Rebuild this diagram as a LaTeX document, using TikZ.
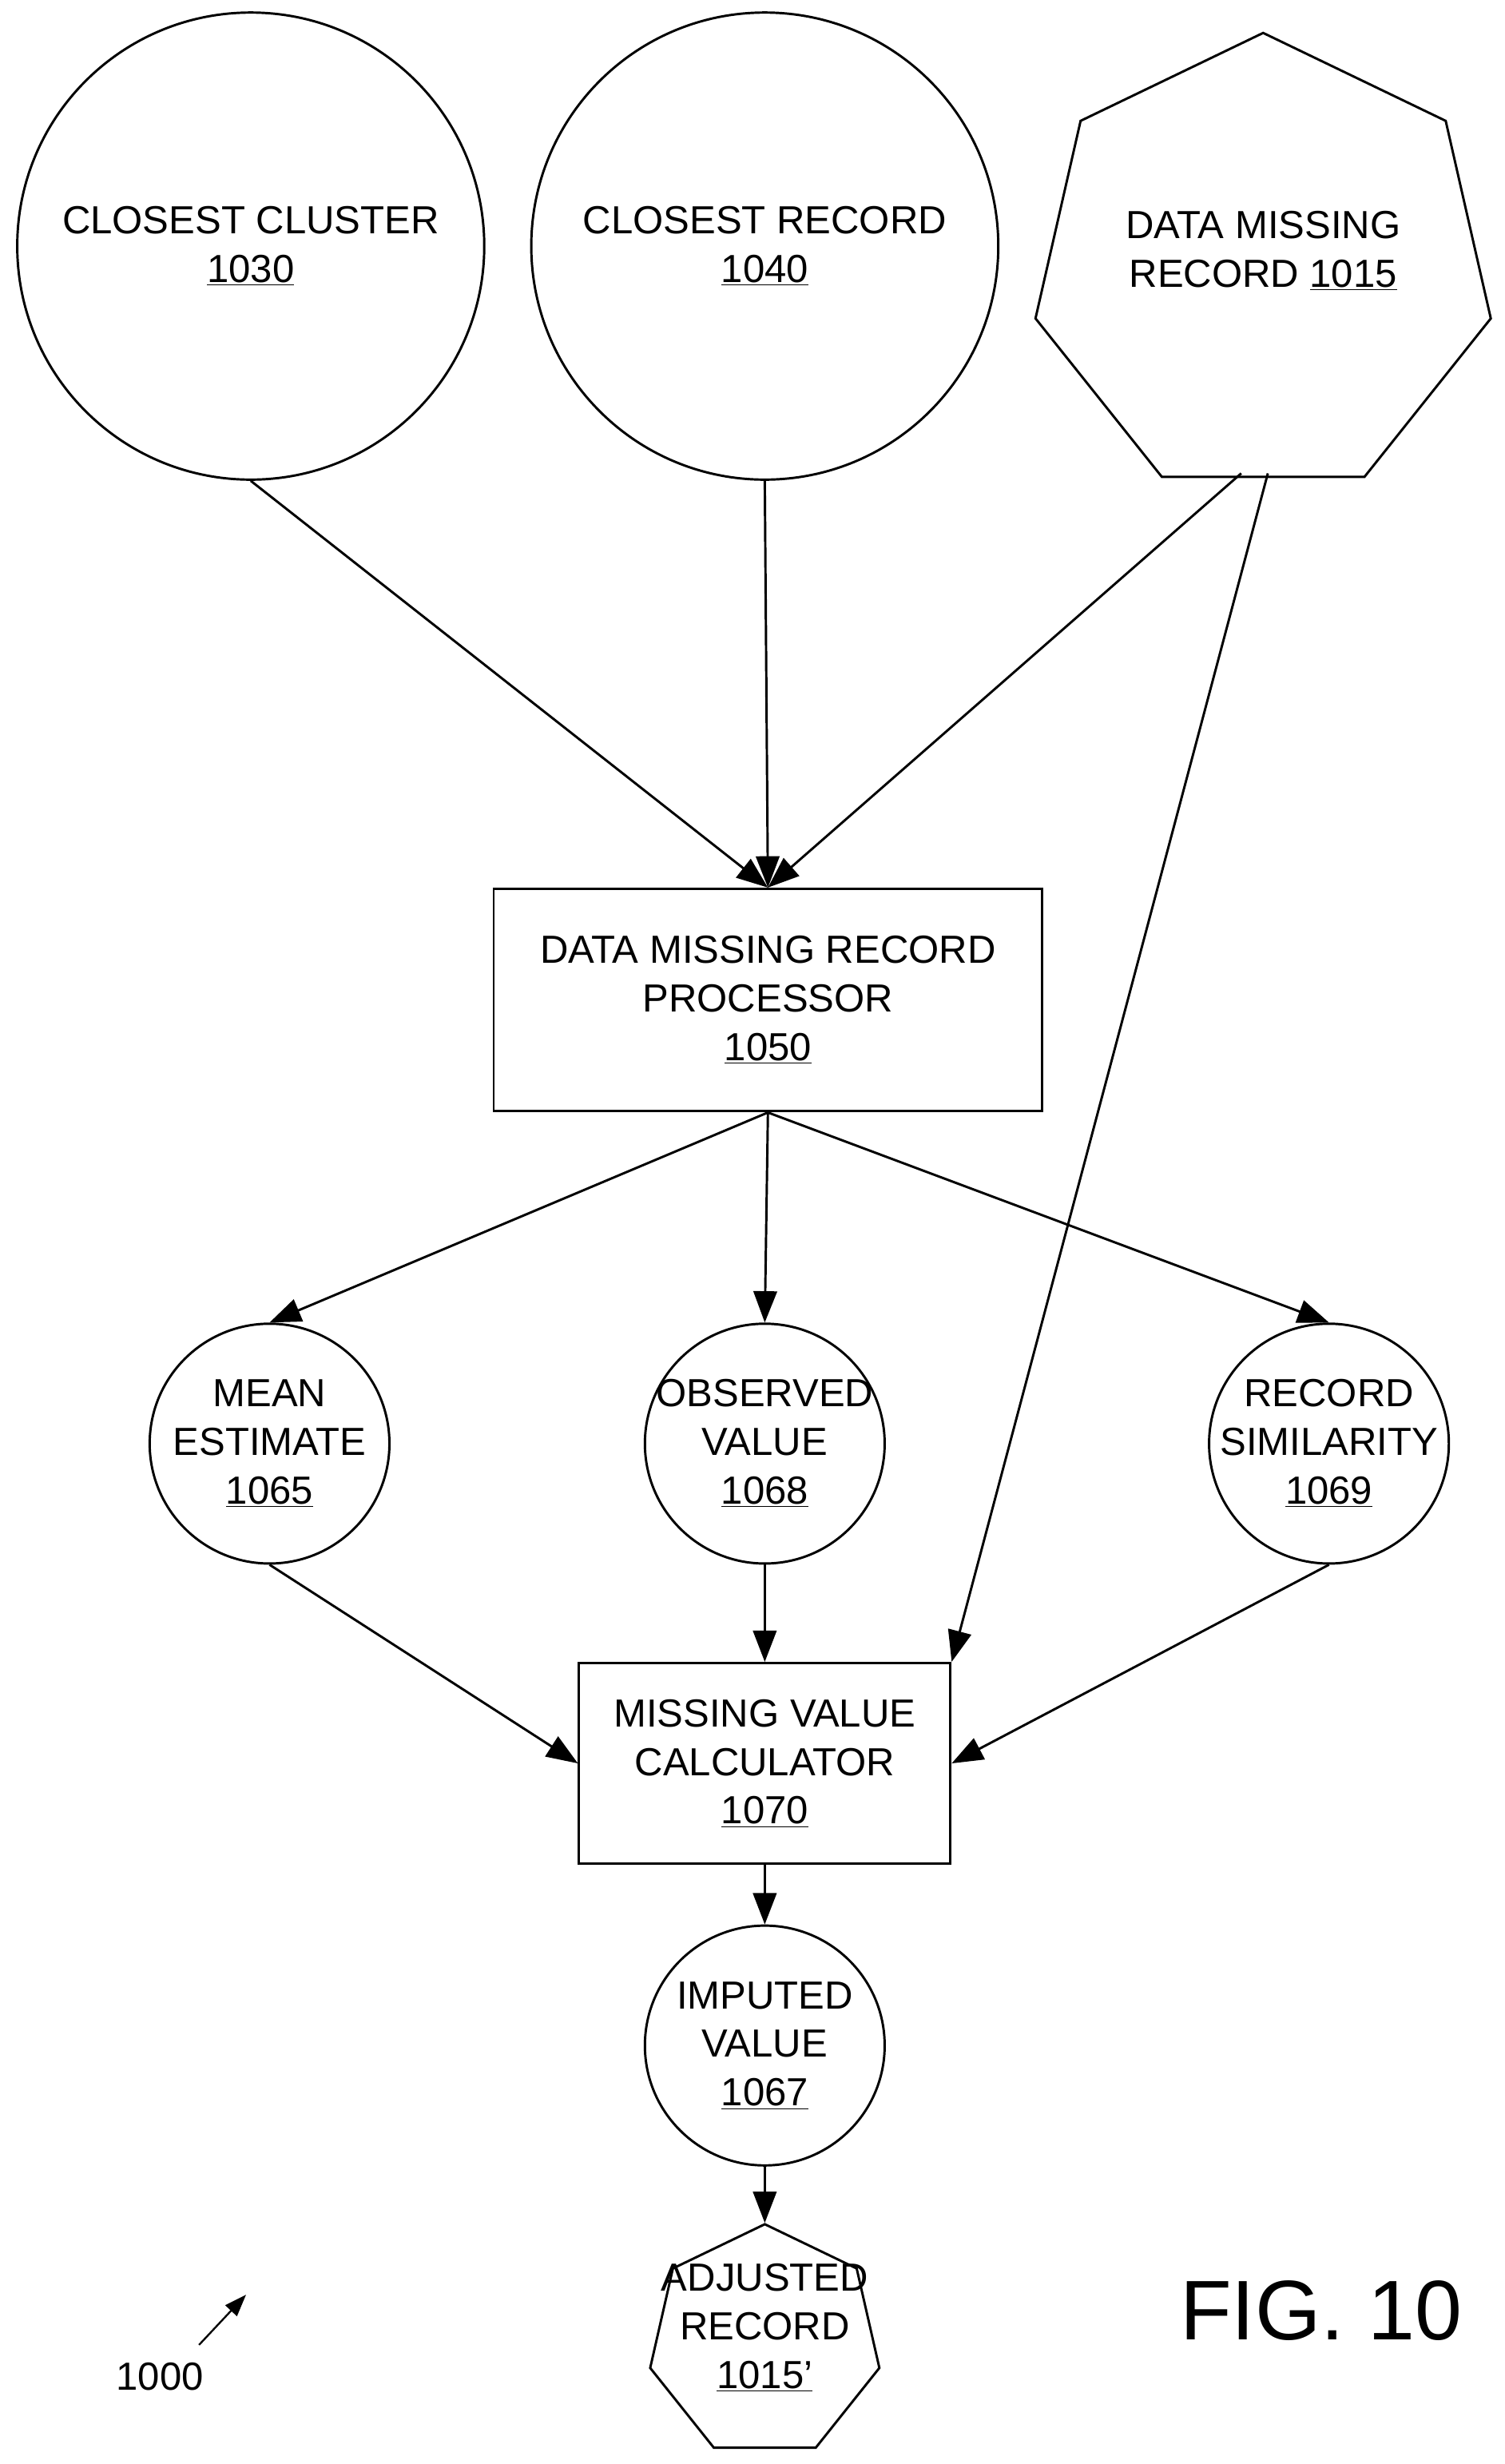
\documentclass[tikz,border=0pt]{standalone}
\usepackage{fontspec}
\setmainfont{Liberation Sans}
\usetikzlibrary{shapes.geometric,arrows.meta}
\tikzstyle{Txt}=[align=center, font=\fontsize{25}{31}\selectfont]
\tikzstyle{Big}=[circle, draw=black, line width=1.5pt, minimum size=298pt, inner sep=0pt]
\tikzstyle{Small}=[circle, draw=black, line width=1.5pt, minimum size=153pt, inner sep=0pt]
\tikzstyle{Hept}=[regular polygon, regular polygon sides=7, draw=black, line width=1.5pt, inner sep=0pt]
\tikzstyle{Box}=[rectangle, draw=black, line width=1.5pt, inner sep=0pt]
\tikzstyle{Flow}=[line width=1.5pt, -{Triangle[length=20pt,width=15pt]}]
\begin{document}
\begin{tikzpicture}[x=1pt, y=-1pt]
    \useasboundingbox (0,0) rectangle (960,1572);
    \path
    (160,157) node[Big] (cluster) {}
    (488,157) node[Big] (closest) {}
    (806,170) node[Hept, minimum size=298pt] (missing) {}
    (490,638) node[Box, minimum width=350pt, minimum height=142pt] (proc) {}
    (172,921) node[Small] (mean) {}
    (488,921) node[Small] (observed) {}
    (848,921) node[Small] (similar) {}
    (488,1125) node[Box, minimum width=237pt, minimum height=128pt] (calc) {}
    (488,1305) node[Small] (imputed) {}
    (488,1494) node[Hept, minimum size=150pt] (adjusted) {};

    \node[Txt] (tcluster) at (cluster) {CLOSEST CLUSTER\\\underline{1030}};
    \node[Txt] (tclosest) at (closest) {CLOSEST RECORD\\\underline{1040}};
    \node[Txt] (tmissing) at (806,160) {DATA MISSING\\RECORD \underline{1015}};
    \node[Txt] (tproc) at (proc) {DATA MISSING RECORD\\PROCESSOR\\\underline{1050}};
    \node[Txt] (tmean) at (mean) {MEAN\\ESTIMATE\\\underline{1065}};
    \node[Txt] (tobserved) at (observed) {OBSERVED\\VALUE\\\underline{1068}};
    \node[Txt] (tsimilar) at (similar) {RECORD\\SIMILARITY\\\underline{1069}};
    \node[Txt] (tcalc) at (calc) {MISSING VALUE\\CALCULATOR\\\underline{1070}};
    \node[Txt] (timputed) at (imputed) {IMPUTED\\VALUE\\\underline{1067}};
    \node[Txt] (tadjusted) at (488,1485) {ADJUSTED\\RECORD\\\underline{1015'}};
    \node[Txt] (fignum) at (843,1474) {\fontsize{54}{60}\selectfont FIG. 10};
    \node[Txt] (ref) at (102,1516) {1000};
    \coordinate (reftail) at (127,1496);
    \coordinate (refhead) at (157,1464);
    \coordinate (mtop) at (792,302);
    \coordinate (mtop2) at (809,302);

    \draw[Flow] (cluster.south) -- (proc.north);
    \draw[Flow] (closest.south) -- (proc.north);
    \draw[Flow] (mtop) -- (proc.north);
    \draw[Flow] (mtop2) -- (calc.north east);
    \draw[Flow] (proc.south) -- (mean.north);
    \draw[Flow] (proc.south) -- (observed.north);
    \draw[Flow] (proc.south) -- (similar.north);
    \draw[Flow] (mean.south) -- (calc.west);
    \draw[Flow] (observed.south) -- (calc.north);
    \draw[Flow] (similar.south) -- (calc.east);
    \draw[Flow] (calc.south) -- (imputed.north);
    \draw[Flow] (imputed.south) -- (adjusted.north);
    \draw[line width=1.2pt, -{Triangle[length=14pt,width=10pt]}] (reftail) -- (refhead);
\end{tikzpicture}
\end{document}
